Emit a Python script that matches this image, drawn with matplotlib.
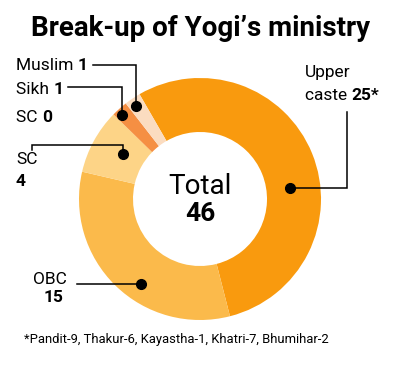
import numpy as np
import matplotlib
matplotlib.use("Agg")
import matplotlib.pyplot as plt

# data
labels = ["Upper caste", "OBC", "SC", "SC", "Sikh", "Muslim"]
values = [25, 15, 4, 0, 1, 1]
colors = ["#F99A0E", "#FBBA4B", "#FDD487", "#FDD487", "#F58F43", "#FBDCC0"]
total = sum(values)
footnote = "*Pandit-9, Thakur-6, Kayastha-1, Khatri-7, Bhumihar-2"

W, H = 400, 367
FONT = ["Roboto", "DejaVu Sans"]

fig = plt.figure(figsize=(W / 100, H / 100), dpi=100)
ax = fig.add_axes([0, 0, 1, 1])

def Y(py):
    return H - py

cx, cy = 200, Y(199)
R, r = 121, 67

wedges, _ = ax.pie(values, colors=colors, startangle=120, counterclock=False,
                   radius=R, center=(cx, cy),
                   wedgeprops=dict(width=R - r, linewidth=0))
ax.set_xlim(0, W)
ax.set_ylim(0, H)
ax.set_aspect("equal")
ax.axis("off")

# centre text
ax.text(cx, Y(186), "Total", ha="center", va="center", fontsize=20,
        family=FONT)
ax.text(cx, Y(214), str(total), ha="center", va="center", fontsize=19,
        family=FONT, weight="bold")

# title
ax.text(201, Y(29), "Break-up of Yogi\u2019s ministry", ha="center", va="center",
        fontsize=20, family=FONT, weight="bold")

ax.text(24, Y(339), footnote, ha="left", va="center", fontsize=9.4,
        family=FONT)

renderer = fig.canvas.get_renderer()

def mixed(x, py, parts, size=12.5):
    for s, bold in parts:
        t = ax.text(x, Y(py), s, ha="left", va="center", fontsize=size,
                    family=FONT, weight="bold" if bold else "normal")
        x = t.get_window_extent(renderer).x1
    return x

def dot_pos(i, shift, rad):
    w = wedges[i]
    ang = np.deg2rad((w.theta1 + w.theta2) / 2 + shift)
    return cx + rad * np.cos(ang), cy + rad * np.sin(ang)

def leader(pts):
    xs = [p[0] for p in pts]
    ys = [p[1] for p in pts]
    ax.plot(xs, ys, color="black", lw=1.1, solid_joinstyle="miter")
    ax.plot(xs[-1], ys[-1], "o", color="black", ms=7)

# labels
end_m = mixed(16, 66, [("Muslim ", False), (str(values[5]), True)])
end_s = mixed(16, 89, [("Sikh ", False), (str(values[4]), True)])
mixed(16, 118, [("SC ", False), (str(values[3]), True)])
mixed(16, 160, [("SC", False)])
mixed(16, 181, [(str(values[2]), True)])
mixed(305, 72, [("Upper", False)])
mixed(305, 95, [("caste ", False), (str(values[0]) + "*", True)])
ax.text(67, Y(280), "OBC", ha="right", va="center", fontsize=12.5, family=FONT)
ax.text(63, Y(298), str(values[1]), ha="right", va="center", fontsize=12.5,
        family=FONT, weight="bold")

# leader lines
d = dot_pos(5, 0.5, 113)
leader([(end_m + 5, Y(65)), (d[0], Y(65)), d])
d = dot_pos(4, 1.2, 115)
leader([(end_s + 5, Y(87)), (d[0], Y(87)), d])
d = dot_pos(2, -1.5, 89)
leader([(32, Y(150)), (32, Y(145)), (d[0], Y(145)), d])
d = dot_pos(0, -15.5, 91)
leader([(347, Y(112)), (347, d[1]), d])
d = dot_pos(1, 9.5, 104)
leader([(77, d[1]), d])

fig.savefig("out.png", dpi=100)
